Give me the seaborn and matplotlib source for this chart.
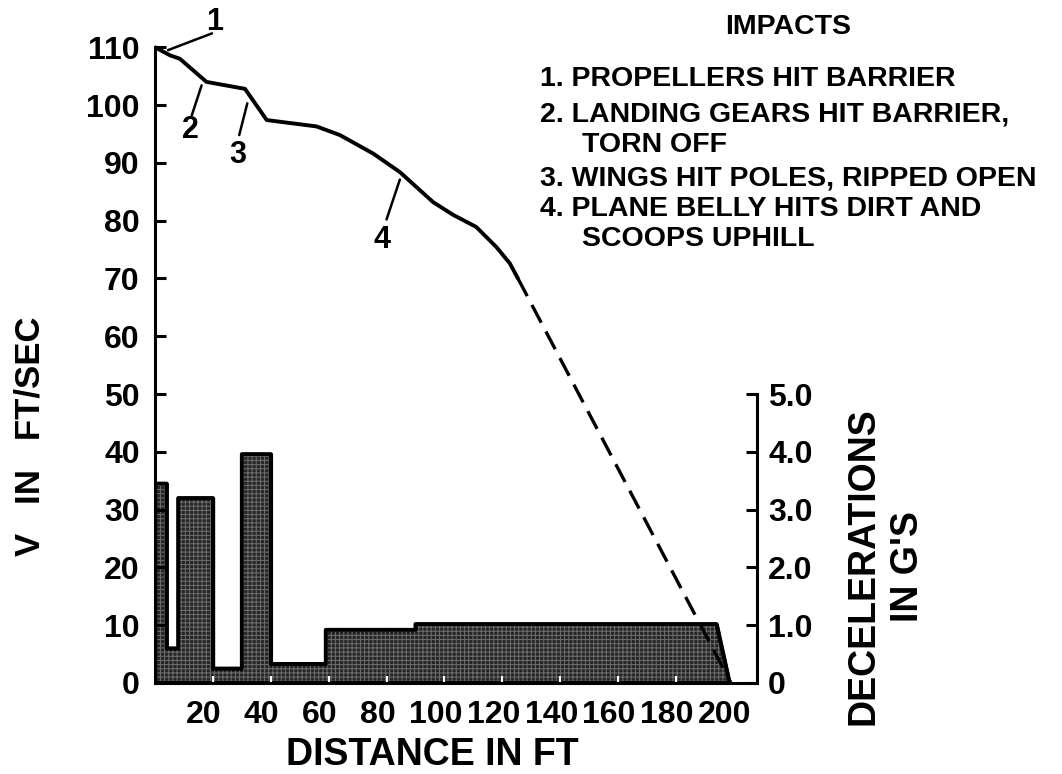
import matplotlib
matplotlib.use("Agg")
import matplotlib.pyplot as plt
import matplotlib.transforms as mtransforms
import seaborn as sns

# velocity along the run (solid part)
dist_ft = [0, 5.2, 8.6, 13.2, 17.8, 31.1, 38.6, 55.8, 63.9, 75.4, 84.6,
           96.1, 103.0, 111.0, 118.0, 122.6, 125.4]
vel_fps = [110, 108.6, 108.0, 106.0, 104.0, 102.8, 97.4, 96.3, 94.8, 91.6, 88.4,
           83.2, 81.0, 78.9, 75.4, 72.6, 70.0]

# estimated part (dashed)
dash_ft = [125.4, 199.0]
dash_fps = [70.0, 0.0]

# deceleration blocks: edges in ft, level in g
bar_edges = [0, 4, 8, 20, 30, 40, 59, 90, 194]
bar_g = [3.45, 0.6, 3.2, 0.25, 3.96, 0.33, 0.92, 1.02]
tail_end_ft = 198.5

v_ticks = list(range(0, 111, 10))
x_ticks = list(range(20, 201, 20))
g_ticks = [0, 1, 2, 3, 4, 5]
g_labels = ["0", "1.0", "2.0", "3.0", "4.0", "5.0"]

impact_lines = [
    "1. PROPELLERS HIT BARRIER",
    "2. LANDING GEARS HIT BARRIER,",
    "TORN OFF",
    "3. WINGS HIT POLES, RIPPED OPEN",
    "4. PLANE BELLY HITS DIRT AND",
    "SCOOPS UPHILL",
]

sns.set_theme(style="white")
plt.rcParams["font.family"] = ["Liberation Sans", "DejaVu Sans"]
plt.rcParams["font.weight"] = "bold"
plt.rcParams["text.color"] = "black"
plt.rcParams["xtick.color"] = "black"
plt.rcParams["ytick.color"] = "black"
plt.rcParams["hatch.linewidth"] = 0.7

W, H = 1062, 774
fig = plt.figure(figsize=(W / 100, H / 100), dpi=100)
ax = fig.add_axes([155 / W, 1 - 683 / H, 602 / W, 682 / H])
ax2 = ax.twinx()

# deceleration histogram as one outlined step polygon
xs, ys = [], []
for i, g in enumerate(bar_g):
    xs += [bar_edges[i], bar_edges[i + 1]]
    ys += [g, g]
xs.append(tail_end_ft)
ys.append(0)
ax2.fill_between(xs, ys, 0, facecolor="#262626", edgecolor="black", linewidth=2.6)
ax2.fill_between(xs, ys, 0, facecolor="none", edgecolor="#6e6e6e", hatch="++++", linewidth=0)
ax2.fill_between(xs, ys, 0, facecolor="none", edgecolor="black", linewidth=2.8)

# velocity curve on top
ax.set_zorder(ax2.get_zorder() + 1)
ax.patch.set_visible(False)
sns.lineplot(x=dist_ft, y=vel_fps, ax=ax, color="black", linewidth=2.8,
             estimator=None, sort=False)
sns.lineplot(x=dash_ft, y=dash_fps, ax=ax, color="black", linewidth=2.4,
             linestyle=(0, (6, 3)), estimator=None, sort=False)

ax.set_xlim(0, 208)
ax.set_ylim(0, 118)
ax2.set_ylim(0, 11.8)

for s in ["top", "right"]:
    ax.spines[s].set_visible(False)
for s in ["top", "left", "bottom"]:
    ax2.spines[s].set_visible(False)
for sp in [ax.spines["left"], ax.spines["bottom"], ax2.spines["right"]]:
    sp.set_color("black")
    sp.set_linewidth(2.2)
ax.spines["left"].set_bounds(0, 110)
ax2.spines["right"].set_bounds(0, 5)

ax.set_yticks(v_ticks)
ax.set_xticks(x_ticks)
ax.set_xticklabels([str(t) for t in x_ticks])
ax2.set_yticks(g_ticks)
ax2.set_yticklabels(g_labels)

ax.tick_params(axis="y", direction="in", length=8, width=2.2, color="black",
               labelsize=23, pad=11, left=True, labelcolor="black")
ax.tick_params(axis="x", direction="in", length=5, width=1.5, color="white",
               labelsize=23, pad=12, bottom=True, labelcolor="black")
ax2.tick_params(axis="y", direction="in", length=8, width=2.2, color="black",
                labelsize=23, pad=8, right=True, labelcolor="black")
for lab in ax.get_xticklabels() + ax.get_yticklabels() + ax2.get_yticklabels():
    lab.set_fontweight("bold")
shift = mtransforms.ScaledTranslation(-9 / 100, 0, fig.dpi_scale_trans)
for lab in ax.get_xticklabels():
    lab.set_transform(lab.get_transform() + shift)

ax.set_xlabel("")
ax.set_ylabel("")

# impact markers
leaders = [((4.5, 109.5), (19.7, 112.4), (20.7, 114.4), "1"),
           ((16.1, 103.4), (12.7, 98.2), (12.1, 95.6), "2"),
           ((31.9, 100.3), (29.1, 94.8), (28.7, 91.3), "3"),
           ((84.6, 87.1), (80.0, 80.2), (78.4, 76.7), "4")]
for p0, p1, pt, txt in leaders:
    ax.plot([p0[0], p1[0]], [p0[1], p1[1]], color="black", linewidth=1.8, clip_on=False)
    ax.text(pt[0], pt[1], txt, ha="center", va="center", fontsize=22,
            fontweight="bold", clip_on=False)

fig.text(788 / W, 1 - 34 / H, "IMPACTS", ha="center", va="baseline",
         fontsize=20.5, fontweight="bold")
line_x = [540, 540, 582, 540, 540, 582]
line_base = [86, 122, 152, 186, 216, 246]
for txt, lx, ly in zip(impact_lines, line_x, line_base):
    fig.text(lx / W, 1 - ly / H, txt, ha="left", va="baseline",
             fontsize=20.5, fontweight="bold")

fig.text(30 / W, 1 - 436 / H, "V   IN   FT/SEC", rotation=90, ha="center",
         va="center", fontsize=25, fontweight="bold")
fig.text(432 / W, 1 - 765 / H, "DISTANCE IN FT", ha="center", va="baseline",
         fontsize=27, fontweight="bold")
fig.text(886 / W, 1 - 566 / H, "DECELERATIONS\nIN G'S", rotation=90,
         ha="center", va="center", multialignment="center", linespacing=1.3,
         fontsize=27, fontweight="bold")

fig.savefig("out.png", dpi=100)
